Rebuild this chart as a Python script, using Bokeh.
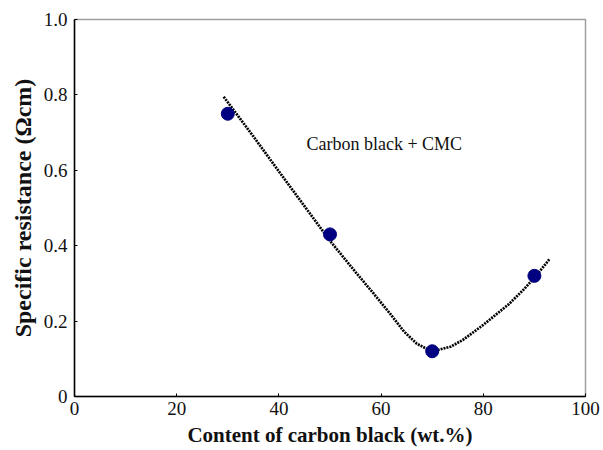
from bokeh.plotting import figure
from bokeh.models import Range1d, FixedTicker, Label, Title
from bokeh.embed import file_html
from bokeh.resources import INLINE

# measured points
content = [30, 50, 70, 90]
resistance = [0.75, 0.43, 0.12, 0.32]

# fitted (dotted) trend curve
curve_x = [29.2, 35, 40, 45, 50, 55, 58.6, 61.8, 64.5, 67.0, 69.0, 71.0, 73.6, 76, 80, 85, 88, 90, 93]
curve_y = [0.795, 0.69, 0.597, 0.505, 0.413, 0.33, 0.272, 0.219, 0.172, 0.140, 0.126, 0.123, 0.132, 0.150, 0.19, 0.245, 0.285, 0.315, 0.365]

x_ticks = [0, 20, 40, 60, 80, 100]
y_ticks = [0, 0.2, 0.4, 0.6, 0.8, 1.0]
y_tick_labels = ["0", "0.2", "0.4", "0.6", "0.8", "1.0"]

annotation_text = "Carbon black + CMC"
annotation_x = 45.4
annotation_y = 0.67

FONT = "Liberation Serif"

p = figure(width=603, height=450, output_backend="svg", toolbar_location=None,
           x_range=Range1d(0, 100), y_range=Range1d(0, 1.0),
           min_border_left=74, min_border_right=18, min_border_top=19, min_border_bottom=54)
p.frame_width = 511
p.frame_height = 377

p.xgrid.visible = False
p.ygrid.visible = False
p.background_fill_color = "white"
p.border_fill_color = "white"
p.outline_line_color = "#a0a0a0"
p.outline_line_width = 1.5

p.line(curve_x, curve_y, line_color="black", line_width=2.7, line_dash="2 1")
p.scatter(content, resistance, size=13, fill_color="#000080", line_color="#000080")

lab = Label(x=annotation_x, y=annotation_y, text=annotation_text, text_font=FONT,
            text_font_size="18px", text_color="#111111", text_baseline="alphabetic")
p.add_layout(lab)

for ax in (p.xaxis[0], p.yaxis[0]):
    ax.axis_line_color = "black"
    ax.axis_line_width = 1.5
    ax.major_tick_in = 3
    ax.major_tick_out = 0
    ax.major_tick_line_color = "black"
    ax.minor_tick_line_color = None
    ax.major_label_text_font = FONT
    ax.major_label_text_font_size = "19px"
    ax.major_label_text_color = "#111111"
    ax.axis_label_text_font = FONT
    ax.axis_label_text_font_style = "bold"
    ax.axis_label_text_color = "#111111"

p.xaxis.ticker = FixedTicker(ticks=x_ticks)
p.xaxis.major_label_standoff = 5
p.xaxis.axis_label = "Content of carbon black (wt.%)"
p.xaxis.axis_label_text_font_size = "21px"
p.xaxis.axis_label_standoff = 5

p.yaxis.ticker = FixedTicker(ticks=y_ticks)
p.yaxis.major_label_overrides = {t: s for t, s in zip(y_ticks, y_tick_labels)}
p.yaxis.major_label_standoff = 7
p.yaxis.axis_label = None

ytitle = Title(text="Specific resistance (Ωcm)", align="center", offset=12,
               text_font=FONT, text_font_size="24px", text_font_style="bold",
               text_color="#111111", standoff=10)
p.add_layout(ytitle, "left")

open("out.html", "w").write(file_html(p, INLINE))
